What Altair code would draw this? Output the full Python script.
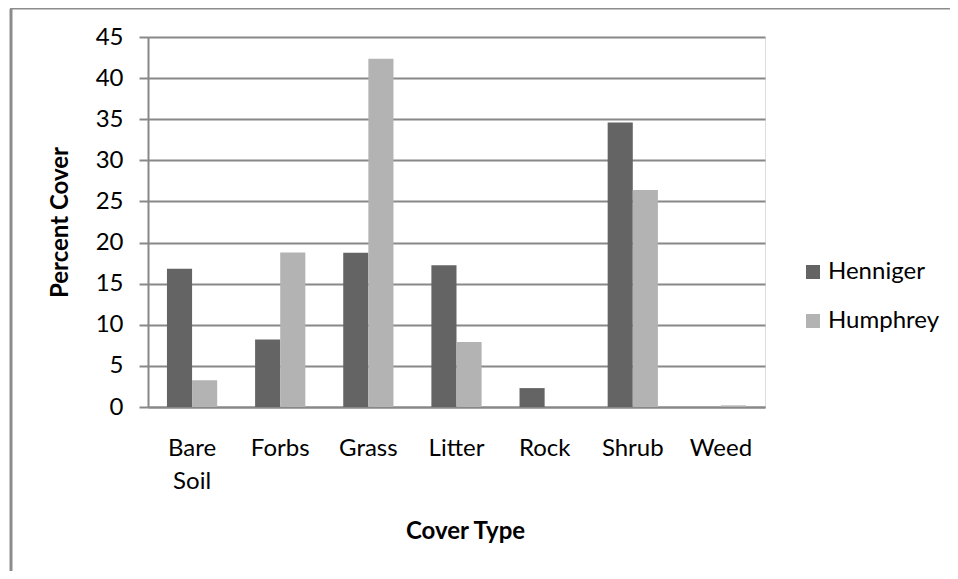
import altair as alt
import pandas as pd

categories = ["Bare Soil", "Forbs", "Grass", "Litter", "Rock", "Shrub", "Weed"]
henniger = [16.8, 8.2, 18.75, 17.25, 2.3, 34.6, 0.0]
humphrey = [3.25, 18.8, 42.35, 7.9, 0.0, 26.4, 0.2]
series = ["Henniger", "Humphrey"]
colors = ["#646464", "#b3b3b3"]
y_ticks = [0, 5, 10, 15, 20, 25, 30, 35, 40, 45]

rows = []
for c, h, u in zip(categories, henniger, humphrey):
    rows.append({"Cover Type": c, "Site": series[0], "Percent Cover": h})
    rows.append({"Cover Type": c, "Site": series[1], "Percent Cover": u})
df = pd.DataFrame(rows)

FONT = "Lato"
FS = 24
W, H = 617, 370
PL, PT = 140, 29
TOTAL_W, TOTAL_H = 942, 563

bars = alt.Chart(df).mark_bar(stroke=None).encode(
    x=alt.X(
        "Cover Type:N",
        sort=categories,
        scale=alt.Scale(paddingInner=0.43, paddingOuter=0.215),
        axis=alt.Axis(
            title="Cover Type",
            titleFont=FONT,
            titleFontSize=FS,
            titleFontWeight="bold",
            titleColor="#000000",
            titlePadding=26,
            titleX=317,
            labelFont=FONT,
            labelFontSize=FS,
            labelColor="#000000",
            labelAngle=0,
            labelPadding=29,
            labelLineHeight=33,
            labelExpr="split(datum.label, ' ')",
            ticks=False,
            domain=True,
            domainColor="#888888",
            domainWidth=2,
        ),
    ),
    xOffset=alt.XOffset("Site:N", sort=series),
    y=alt.Y(
        "Percent Cover:Q",
        scale=alt.Scale(domain=[0, 45], nice=False),
        axis=alt.Axis(
            values=y_ticks,
            title="Percent Cover",
            titleFont=FONT,
            titleFontSize=FS,
            titleFontWeight="bold",
            titleColor="#000000",
            titlePadding=23,
            labelFont=FONT,
            labelFontSize=FS,
            labelColor="#000000",
            labelPadding=16,
            tickSize=9,
            tickColor="#888888",
            tickWidth=2,
            grid=True,
            gridColor="#888888",
            gridWidth=2,
            domain=True,
            domainColor="#888888",
            domainWidth=2,
        ),
    ),
    color=alt.Color(
        "Site:N",
        sort=series,
        scale=alt.Scale(domain=series, range=colors),
        legend=alt.Legend(
            title=None,
            orient="none",
            legendX=653,
            legendY=223,
            symbolType="square",
            symbolSize=196,
            symbolStrokeWidth=0,
            labelFont=FONT,
            labelFontSize=FS,
            labelColor="#000000",
            labelOffset=3,
            rowPadding=25,
        ),
    ),
)

frame = pd.DataFrame({"k": [0]})
left_border = alt.Chart(frame).mark_rule(color="#8c8c8c", strokeWidth=3).encode(
    x=alt.value(-PL + 3), y=alt.value(-PT + 1), y2=alt.value(H + 300)
)
top_border = alt.Chart(frame).mark_rule(color="#8c8c8c", strokeWidth=2).encode(
    x=alt.value(-PL + 2), x2=alt.value(W + 400), y=alt.value(-PT + 0.5)
)

chart = alt.layer(bars, left_border, top_border).properties(
    width=W,
    height=H,
    autosize=alt.AutoSizeParams(type="none"),
    padding={"left": PL, "top": PT, "right": TOTAL_W - PL - W, "bottom": TOTAL_H - PT - H},
).configure_view(stroke=None).configure(background="#ffffff")

chart.save("out.html", embed_options={"renderer": "svg", "actions": False})
